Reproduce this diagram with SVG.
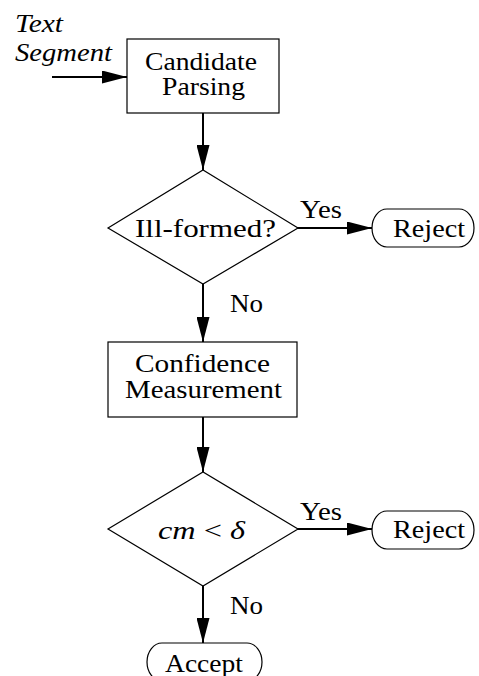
<svg xmlns="http://www.w3.org/2000/svg" width="479" height="676" viewBox="0 0 479 676">
<defs>
<style>
text{font-family:"Liberation Serif","Times New Roman",serif;font-size:26px;fill:#000}
.c{text-anchor:middle}
.i{font-style:italic}
.box{fill:#fff;stroke:#000;stroke-width:1.2}
.conn{stroke:#000;stroke-width:2;fill:none}
</style>
<marker id="ah" markerUnits="userSpaceOnUse" markerWidth="25" markerHeight="13" refX="25" refY="6.5" orient="auto">
<path d="M0,0 L25,6.5 L0,13 z" fill="#000"/>
</marker>
</defs>
<rect width="479" height="676" fill="#fff"/>
<g id="connectors">
<line class="conn" x1="52" y1="77" x2="127" y2="77" marker-end="url(#ah)"/>
<line class="conn" x1="203" y1="113" x2="203" y2="170" marker-end="url(#ah)"/>
<line class="conn" x1="297" y1="228" x2="372" y2="228" marker-end="url(#ah)"/>
<line class="conn" x1="203" y1="284" x2="203" y2="342" marker-end="url(#ah)"/>
<line class="conn" x1="203" y1="417" x2="203" y2="472" marker-end="url(#ah)"/>
<line class="conn" x1="297" y1="529" x2="372" y2="529" marker-end="url(#ah)"/>
<line class="conn" x1="203" y1="586" x2="203" y2="643" marker-end="url(#ah)"/>
<text x="300" y="218" textLength="42" lengthAdjust="spacingAndGlyphs">Yes</text>
<text x="230" y="312" textLength="33" lengthAdjust="spacingAndGlyphs">No</text>
<text x="300" y="520" textLength="42" lengthAdjust="spacingAndGlyphs">Yes</text>
<text x="230" y="614" textLength="33" lengthAdjust="spacingAndGlyphs">No</text>
</g>
<g id="input">
<text class="i" x="15" y="32" textLength="48" lengthAdjust="spacingAndGlyphs">Text</text>
<text class="i" x="15" y="61" textLength="97" lengthAdjust="spacingAndGlyphs">Segment</text>
</g>
<g id="candidate-parsing">
<rect class="box" x="127" y="39" width="152" height="74"/>
<text class="c" x="201" y="70" textLength="112" lengthAdjust="spacingAndGlyphs">Candidate</text>
<text class="c" x="203.5" y="95" textLength="83" lengthAdjust="spacingAndGlyphs">Parsing</text>
</g>
<g id="ill-formed">
<polygon class="box" points="108,228 203,170 298,228 203,284"/>
<text class="c" x="205.5" y="237" textLength="141" lengthAdjust="spacingAndGlyphs">Ill-formed?</text>
</g>
<g id="reject1">
<rect class="box" x="372" y="209" width="102" height="38" rx="15" ry="19"/>
<text class="c" x="429" y="237" textLength="72" lengthAdjust="spacingAndGlyphs">Reject</text>
</g>
<g id="confidence">
<rect class="box" x="108" y="342" width="189" height="75"/>
<text class="c" x="202.5" y="372" textLength="135" lengthAdjust="spacingAndGlyphs">Confidence</text>
<text class="c" x="203.5" y="398" textLength="157" lengthAdjust="spacingAndGlyphs">Measurement</text>
</g>
<g id="cm-test">
<polygon class="box" points="108,529 203,472 298,529 203,586"/>
<text class="c" x="201.5" y="539" textLength="87" lengthAdjust="spacingAndGlyphs"><tspan class="i">cm</tspan> &lt; <tspan class="i">δ</tspan></text>
</g>
<g id="reject2">
<rect class="box" x="372" y="511" width="102" height="38" rx="15" ry="19"/>
<text class="c" x="429" y="538" textLength="72" lengthAdjust="spacingAndGlyphs">Reject</text>
</g>
<g id="accept">
<rect class="box" x="147" y="643" width="115" height="38" rx="15" ry="19"/>
<text class="c" x="204" y="672" textLength="78" lengthAdjust="spacingAndGlyphs">Accept</text>
</g>
</svg>
